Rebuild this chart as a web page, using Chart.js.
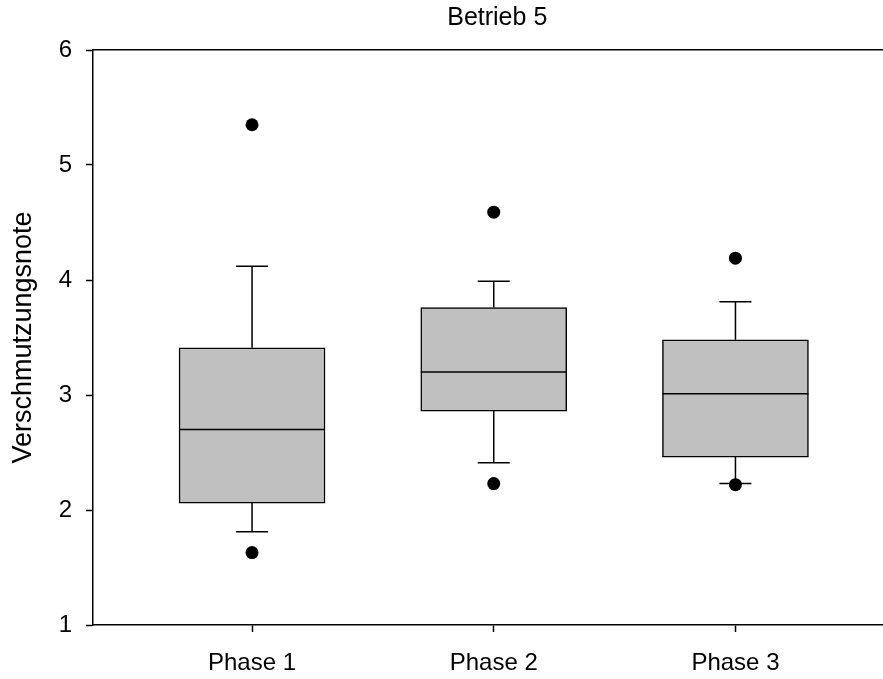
<!DOCTYPE html>
<html>
<head>
  <meta charset="UTF-8">
  <title>Betrieb 5</title>
  <script src="https://cdn.jsdelivr.net/npm/chart.js"></script>
  <style>
    body { margin: 0; background: #fff; }
    .frame { width: 883px; height: 679px; overflow: hidden; }
    canvas { display: block; }
  </style>
</head>
<body>
  <div class="frame">
    <canvas id="box-chart" width="908" height="679"></canvas>
  </div>

  <script>
    // Kennwerte je Phase
    const phases = ['Phase 1', 'Phase 2', 'Phase 3'];
    const whiskerLow = [1.81, 2.41, 2.23];
    const q1 = [2.06, 2.86, 2.46];
    const median = [2.70, 3.20, 3.01];
    const q3 = [3.41, 3.76, 3.48];
    const whiskerHigh = [4.12, 3.99, 3.81];
    const outliers = [[5.35, 1.63], [4.59, 2.23], [4.19, 2.22]];
    const yTicks = [1, 2, 3, 4, 5, 6];

    const FONT = 'Liberation Sans, Arial, sans-serif';
    const LINE = 1.5;

    // Whisker, Kappen und Median werden direkt über die Skalen gezeichnet
    const boxExtras = {
      id: 'boxExtras',
      beforeDatasetsDraw(chart) {
        const { ctx, scales: { x, y } } = chart;
        ctx.save();
        ctx.strokeStyle = '#000';
        ctx.lineWidth = LINE;
        phases.forEach((p, i) => {
          const px = x.getPixelForValue(i + 1);
          const segs = [[q3[i], whiskerHigh[i]], [q1[i], whiskerLow[i]]];
          segs.forEach(([from, to]) => {
            ctx.beginPath();
            ctx.moveTo(px, y.getPixelForValue(from));
            ctx.lineTo(px, y.getPixelForValue(to));
            ctx.moveTo(px - 16, y.getPixelForValue(to));
            ctx.lineTo(px + 16, y.getPixelForValue(to));
            ctx.stroke();
          });
        });
        ctx.restore();
      },
      afterDatasetDraw(chart, args) {
        if (args.index !== 1) return;
        const { ctx, scales: { y } } = chart;
        const bars = chart.getDatasetMeta(1).data;
        ctx.save();
        ctx.strokeStyle = '#000';
        ctx.lineWidth = LINE;
        bars.forEach((bar, i) => {
          const py = y.getPixelForValue(median[i]);
          ctx.beginPath();
          ctx.moveTo(bar.x - bar.width / 2, py);
          ctx.lineTo(bar.x + bar.width / 2, py);
          ctx.stroke();
        });
        ctx.restore();
      }
    };

    const outlierPoints = [];
    outliers.forEach((vals, i) => vals.forEach(v => outlierPoints.push({ x: i + 1, y: v })));

    const axisGrid = {
      display: true,
      offset: false,
      drawOnChartArea: false,
      drawTicks: true,
      tickLength: 7,
      tickColor: '#000',
      tickWidth: LINE
    };

    new Chart(document.getElementById('box-chart'), {
      data: {
        datasets: [
          {
            type: 'scatter',
            data: outlierPoints,
            pointRadius: 6.5,
            pointBackgroundColor: '#000',
            pointBorderWidth: 0
          },
          {
            type: 'bar',
            data: phases.map((p, i) => ({ x: i + 1, y: [q1[i], q3[i]] })),
            backgroundColor: '#c0c0c0',
            borderColor: '#000',
            borderWidth: LINE,
            borderSkipped: false,
            barThickness: 146
          }
        ]
      },
      options: {
        responsive: false,
        animation: false,
        layout: { padding: { left: 0, right: 2, top: 0, bottom: 0 } },
        plugins: {
          legend: { display: false },
          tooltip: { enabled: false },
          title: { display: false }
        },
        scales: {
          x: {
            type: 'linear',
            position: 'bottom',
            offset: false,
            min: 0.342,
            max: 3.687,
            afterBuildTicks: (scale) => { scale.ticks = phases.map((p, i) => ({ value: i + 1 })); },
            afterFit: (scale) => { scale.height = 54; },
            ticks: {
              callback: (v, i) => phases[i],
              color: '#000',
              font: { family: FONT, size: 24 },
              padding: 17,
              maxRotation: 0,
              autoSkip: false
            },
            grid: axisGrid,
            border: { display: true, color: '#000', width: LINE }
          },
          x2: {
            type: 'linear',
            position: 'top',
            offset: false,
            min: 0.342,
            max: 3.687,
            afterFit: (scale) => { scale.height = 50; },
            ticks: { display: false },
            grid: { display: false },
            border: { display: true, color: '#000', width: LINE },
            title: {
              display: true,
              text: 'Betrieb 5',
              color: '#000',
              font: { family: FONT, size: 25 },
              padding: { top: 3, bottom: 0 }
            }
          },
          y: {
            min: 1,
            max: 6,
            afterBuildTicks: (scale) => { scale.ticks = yTicks.map(v => ({ value: v })); },
            afterFit: (scale) => { scale.width = 93; },
            ticks: {
              color: '#000',
              font: { family: FONT, size: 24 },
              padding: 14
            },
            grid: axisGrid,
            border: { display: true, color: '#000', width: LINE },
            title: {
              display: true,
              text: 'Verschmutzungsnote',
              color: '#000',
              font: { family: FONT, size: 27 },
              padding: { top: 7, bottom: 0 }
            }
          }
        }
      },
      plugins: [boxExtras]
    });
  </script>
</body>
</html>
